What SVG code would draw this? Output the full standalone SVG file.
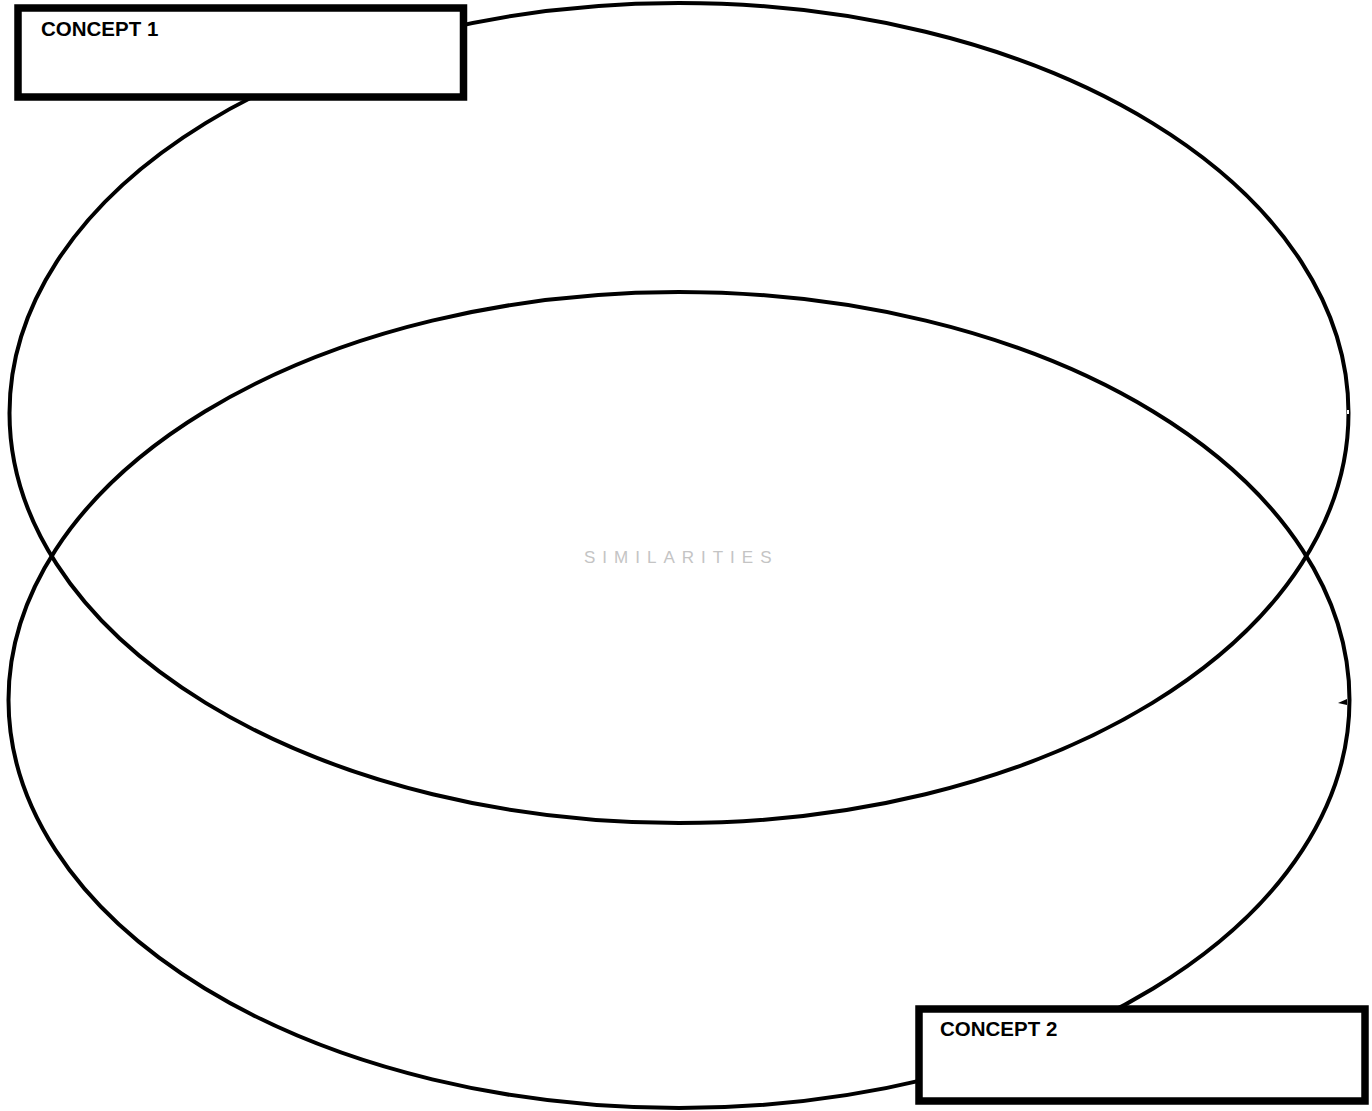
<svg xmlns="http://www.w3.org/2000/svg" width="1372" height="1111" viewBox="0 0 1372 1111">
<style>
.ring{fill:none;stroke:#000;stroke-width:4}
.box{fill:#fff;stroke:#000;stroke-width:7.5}
.lbl{font-family:"Liberation Sans",Arial,sans-serif;font-weight:bold;font-size:20.5px;fill:#000}
.sim{font-family:"Liberation Sans",Arial,sans-serif;font-size:17px;letter-spacing:7px;fill:#c4c4c4}
</style>
<rect width="1372" height="1111" fill="#fff"/>
<g id="set-concept-1">
<ellipse class="ring" cx="679" cy="413" rx="669.5" ry="410"/>
</g>
<g id="set-concept-2">
<ellipse class="ring" cx="679" cy="700" rx="670.5" ry="408"/>
</g>
<g id="connectors">
<path d="M1338,703 L1347,699 L1347,705 Z" fill="#000"/>
<rect x="1347" y="410" width="2" height="4" fill="#fff"/>
</g>
<g id="similarities">
<text class="sim" x="584" y="563">SIMILARITIES</text>
</g>
<g id="concept-1">
<rect class="box" x="18" y="8" width="445.5" height="89"/>
<text class="lbl" x="41" y="36">CONCEPT 1</text>
</g>
<g id="concept-2">
<rect class="box" x="919" y="1009" width="446" height="92"/>
<text class="lbl" x="940" y="1036">CONCEPT 2</text>
</g>
</svg>
